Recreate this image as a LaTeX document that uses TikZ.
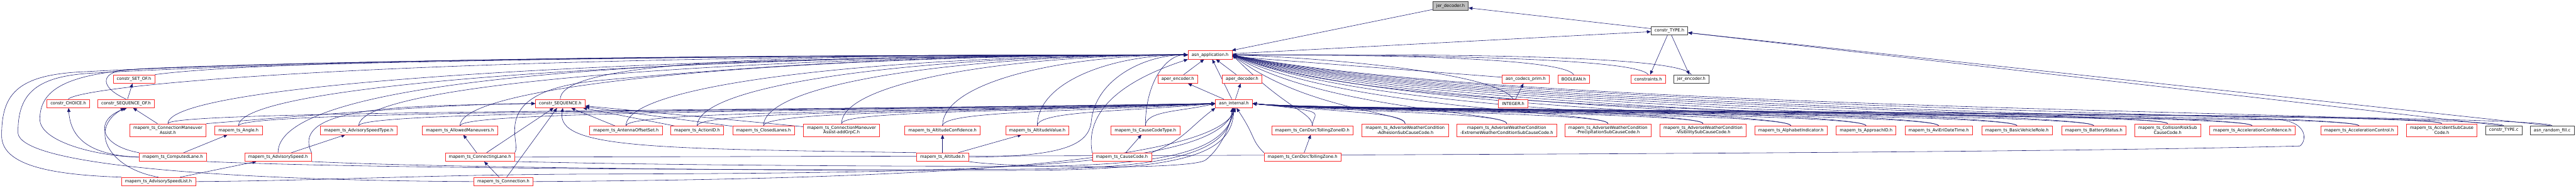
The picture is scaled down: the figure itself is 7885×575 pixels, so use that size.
\documentclass[tikz,border=0pt]{standalone}
\usepackage{fontspec}
\newfontfamily\dejavu{DejaVu Sans}
\usepackage{xcolor}
\definecolor{edgeblue}{RGB}{25,25,112}
\definecolor{boxred}{RGB}{250,45,45}
\definecolor{boxgray}{RGB}{64,64,64}
\definecolor{rootgray}{RGB}{191,191,191}
\usepackage{tikz}
\usetikzlibrary{arrows.meta, calc}
\pgfdeclarelayer{edges}
\pgfsetlayers{edges,main}

\begin{document}
\begin{tikzpicture}[
    x=1pt, y=1pt,
    hfile/.style={rectangle, draw=boxred, fill=white, line width=1.2pt, inner xsep=11pt, inner ysep=6pt, minimum height=26pt, align=center, font=\dejavu\fontsize{12.9}{14.7}\selectfont},
    twoline/.style={minimum height=39.6pt},
    plain/.style={hfile, draw=boxgray},
    root/.style={hfile, draw=boxgray, fill=rootgray},
    arr/.style={-{Triangle[length=12pt, width=10pt]}, line width=1.1pt, edgeblue},
    toapp/.style={to path={.. controls +(0,150) and ($(\tikztotarget)!.5!(\tikztostart |- \tikztotarget)$) .. (\tikztotarget)}},
    toint/.style={to path={.. controls +(0,60) and ($(\tikztotarget)!.5!(\tikztostart |- \tikztotarget) + (0,-25)$) .. (\tikztotarget)}},
    fromright/.style={to path={.. controls +(0,56) and ($(\tikztotarget)!.2!(\tikztostart |- \tikztotarget) + (120,-170)$) .. (\tikztotarget)}},
    intright/.style={to path={.. controls +(0,56) and ($(\tikztotarget) + (250,-26)$) .. (\tikztotarget)}}
  ]
    \useasboundingbox (0,0) rectangle (7885,575);

    % upper part
    \node[root] (jdec) at (4440,557) {jer\_decoder.h};
    \node[plain] (ctype) at (5110,481) {constr\_TYPE.h};
    \node[hfile] (app) at (3704,407) {asn\_application.h};
    \node[hfile] (csetof) at (410,333) {constr\_SET\_OF.h};
    \node[hfile] (aenc) at (3605,333) {aper\_encoder.h};
    \node[hfile] (adec) at (3802,333) {aper\_decoder.h};
    \node[hfile] (acp) at (4670,333) {asn\_codecs\_prim.h};
    \node[hfile] (bool) at (4817,333) {BOOLEAN.h};
    \node[hfile] (cons) at (5045,333) {constraints.h};
    \node[plain] (jenc) at (5177,333) {jer\_encoder.h};
    \node[hfile] (cchoice) at (209,258) {constr\_CHOICE.h};
    \node[hfile] (cseqof) at (386,258) {constr\_SEQUENCE\_OF.h};
    \node[hfile] (cseq) at (1715,258) {constr\_SEQUENCE.h};
    \node[hfile] (aint) at (3777,258) {asn\_internal.h};
    \node[hfile] (int) at (4632,258) {INTEGER.h};

    % row of types
    \node[hfile, twoline] (cma) at (514,176) {mapem\_ts\_ConnectionManeuver\\Assist.h};
    \node[hfile] (angle) at (730,176) {mapem\_ts\_Angle.h};
    \node[hfile] (astype) at (1098,176) {mapem\_ts\_AdvisorySpeedType.h};
    \node[hfile] (allowed) at (1408,176) {mapem\_ts\_AllowedManeuvers.h};
    \node[hfile] (antenna) at (1916,176) {mapem\_ts\_AntennaOffsetSet.h};
    \node[hfile] (actionid) at (2134,176) {mapem\_ts\_ActionID.h};
    \node[hfile] (closed) at (2337,176) {mapem\_ts\_ClosedLanes.h};
    \node[hfile, twoline] (cmagrpc) at (2576,176) {mapem\_ts\_ConnectionManeuver\\Assist-addGrpC.h};
    \node[hfile] (altconf) at (2885,176) {mapem\_ts\_AltitudeConfidence.h};
    \node[hfile] (altval) at (3175,176) {mapem\_ts\_AltitudeValue.h};
    \node[hfile] (cctype) at (3506,176) {mapem\_ts\_CauseCodeType.h};
    \node[hfile] (ctzid) at (4017,176) {mapem\_ts\_CenDsrcTollingZoneID.h};
    \node[hfile, twoline] (adh) at (4301,176) {mapem\_ts\_AdverseWeatherCondition\\-AdhesionSubCauseCode.h};
    \node[hfile, twoline] (ext) at (4612,176) {mapem\_ts\_AdverseWeatherCondition\\-ExtremeWeatherConditionSubCauseCode.h};
    \node[hfile, twoline] (prec) at (4922,176) {mapem\_ts\_AdverseWeatherCondition\\-PrecipitationSubCauseCode.h};
    \node[hfile, twoline] (vis) at (5213,176) {mapem\_ts\_AdverseWeatherCondition\\-VisibilitySubCauseCode.h};
    \node[hfile] (alpha) at (5482,176) {mapem\_ts\_AlphabetIndicator.h};
    \node[hfile] (appr) at (5712,176) {mapem\_ts\_ApproachID.h};
    \node[hfile] (avi) at (5934,176) {mapem\_ts\_AviEriDateTime.h};
    \node[hfile] (bvr) at (6174,176) {mapem\_ts\_BasicVehicleRole.h};
    \node[hfile] (batt) at (6409,176) {mapem\_ts\_BatteryStatus.h};
    \node[hfile, twoline] (coll) at (6635,176) {mapem\_ts\_CollisionRiskSub\\CauseCode.h};
    \node[hfile] (accconf) at (6894,176) {mapem\_ts\_AccelerationConfidence.h};
    \node[hfile] (accctl) at (7221,176) {mapem\_ts\_AccelerationControl.h};
    \node[hfile, twoline] (accsub) at (7474,176) {mapem\_ts\_AccidentSubCause\\Code.h};
    \node[plain] (ctc) at (7664,176) {constr\_TYPE.c};
    \node[plain] (arf) at (7812,176) {asn\_random\_fill.c};

    % lower rows
    \node[hfile] (clane) at (529,94) {mapem\_ts\_ComputedLane.h};
    \node[hfile] (asp) at (851,94) {mapem\_ts\_AdvisorySpeed.h};
    \node[hfile] (cl) at (1469,94) {mapem\_ts\_ConnectingLane.h};
    \node[hfile] (alt) at (2885,94) {mapem\_ts\_Altitude.h};
    \node[hfile] (cc) at (3434,94) {mapem\_ts\_CauseCode.h};
    \node[hfile] (ctz) at (3987,94) {mapem\_ts\_CenDsrcTollingZone.h};
    \node[hfile] (asl) at (485,19) {mapem\_ts\_AdvisorySpeedList.h};
    \node[hfile] (conn) at (1541,19) {mapem\_ts\_Connection.h};

    \begin{pgfonlayer}{edges}
    \draw[arr] (jdec) -- (app);
    \draw[arr] (app) -- (ctype);
    \draw[arr] (ctype) -- (jdec);
    \draw[arr] (ctype) -- (cons);
    \draw[arr] (ctype) -- (jenc);
    \draw[arr] (ctc.north) -- (ctype);
    \draw[arr] (arf.north) -- (ctype);
    \draw[arr] (aenc) -- (app);
    \draw[arr] (adec) -- (app);
    \draw[arr] (aint) -- (app);
    \draw[arr] (aint) -- (aenc);
    \draw[arr] (aint) -- (adec);
    \draw[arr] (acp) -- (app);
    \draw[arr] (int) -- (acp);
    \draw[arr] (int.north) .. controls +(-50,80) and +(300,-10) .. (app.east);
    \draw[arr] (bool.north) .. controls +(-40,60) and +(260,0) .. (app.east);
    \draw[arr] (cons.north) .. controls +(-40,60) and +(300,0) .. (app.east);
    \draw[arr] (jenc.north) .. controls +(-40,70) and +(340,0) .. (app.east);

    \draw[arr] (cseqof) -- (csetof);
    \draw[arr] (csetof.north east) .. controls +(300,40) and +(-1800,0) .. (app.west);
    \draw[arr] (cseqof.north) .. controls +(-90,40) and +(-90,-2) .. (400,362) .. controls +(300,20) and +(-1600,0) .. (app.west);
    \draw[arr] (cchoice.north) .. controls +(40,40) and +(-2500,0) .. (app.west);
    \draw[arr] (cseq) to[toapp] (app.west);

    \draw[arr] (cma) to[toapp] (app.west);
    \draw[arr] (cma) to[toint] (aint.west);
    \draw[arr] (angle) to[toapp] (app.west);
    \draw[arr] (angle) to[toint] (aint.west);
    \draw[arr] (astype) to[toapp] (app.west);
    \draw[arr] (astype) to[toint] (aint.west);
    \draw[arr] (allowed) to[toapp] (app.west);
    \draw[arr] (allowed) to[toint] (aint.west);
    \draw[arr] (antenna) to[toapp] (app.west);
    \draw[arr] (antenna) to[toint] (aint.west);
    \draw[arr] (actionid) to[toapp] (app.west);
    \draw[arr] (actionid) to[toint] (aint.west);
    \draw[arr] (closed) to[toapp] (app.west);
    \draw[arr] (closed) to[toint] (aint.west);
    \draw[arr] (cmagrpc) to[toapp] (app.west);
    \draw[arr] (cmagrpc) to[toint] (aint.west);
    \draw[arr] (altconf) to[toapp] (app.west);
    \draw[arr] (altconf) to[toint] (aint.west);
    \draw[arr] (altval) to[toapp] (app.west);
    \draw[arr] (altval) to[toint] (aint.west);
    \draw[arr] (cctype) to[toapp] (app.west);
    \draw[arr] (cctype) to[toint] (aint.west);
    \draw[arr] (cma) -- (cseqof);
    \draw[arr] (cma.north east) .. controls +(370,30) and +(-240,0) .. (cseq.west);
    \draw[arr] (antenna) -- (cseq);
    \draw[arr] (actionid) -- (cseq);
    \draw[arr] (closed) -- (cseq);
    \draw[arr] (cmagrpc) -- (cseq);

    \draw[arr] (clane) -- (angle);
    \draw[arr] (clane.north west) .. controls (300,130) and (290,210) .. (cseqof.-80);
    \draw[arr] (clane.west) .. controls (250,100) and (215,170) .. (cchoice);
    \draw[arr] (clane.west) .. controls (300,96) and (122,140) .. (122,210) .. controls (122,300) and (200,350) .. (450,365) .. controls (1200,395) and (2600,407) .. (app.west);
    \draw[arr] (clane.south east) .. controls (1200,55) and (2800,52) .. (3200,58) .. controls (3620,64) and (3760,120) .. (aint.-100);

    \draw[arr] (asp) -- (astype);
    \draw[arr] (asp.north) .. controls +(0,230) and +(-1600,0) .. (app.west);
    \draw[arr] (asp.north east) .. controls (880,260) and (1300,250) .. (cseq.west);
    \draw[arr] (asp.south east) .. controls (1400,58) and (2800,50) .. (3200,54) .. controls (3640,60) and (3770,110) .. (aint.-90);

    \draw[arr] (cl) -- (allowed);
    \draw[arr] (cl) -- (cseq);
    \draw[arr] (cl.north east) .. controls (1600,140) and (1480,300) .. (1850,330) .. controls (2500,390) and (3000,407) .. (app.west);
    \draw[arr] (cl.east) .. controls (3000,98) and (6000,100) .. (7040,128) .. controls (7062,145) and (7062,200) .. (6980,208) .. controls (5400,222) and (4150,250) .. (app.east);
    \draw[arr] (cl.south east) .. controls (2000,70) and (2600,66) .. (3100,66) .. controls (3600,64) and (3750,120) .. (aint.-80);

    \draw[arr] (alt) -- (altconf);
    \draw[arr] (alt) -- (altval);
    \draw[arr] (alt.north west) .. controls (2000,120) and (1700,120) .. (cseq.-60);
    \draw[arr] (alt.east) .. controls (3250,95) and (3330,130) .. (3340,200) .. controls (3350,330) and (3500,407) .. (app.west);
    \draw[arr] (alt.south east) .. controls (3100,60) and (3650,55) .. (3690,85) .. controls (3730,115) and (3765,180) .. (aint.-110);

    \draw[arr] (cc) -- (cctype);
    \draw[arr] (cc.north west) .. controls (3330,180) and (3350,300) .. (app.south west);
    \draw[arr] (cc.north east) .. controls +(100,40) and +(-80,-60) .. (aint.south west);

    \draw[arr] (ctz) -- (ctzid);
    \draw[arr] (ctz.north west) .. controls +(-40,40) and +(60,-90) .. (aint.-60);

    \draw[arr] (asl) -- (asp);
    \draw[arr] (asl.north) .. controls (330,60) and (270,180) .. (cseqof.-110);
    \draw[arr] (asl.north west) .. controls (150,40) and (5,70) .. (5,160) .. controls (5,285) and (50,345) .. (250,355) .. controls (1000,395) and (2500,407) .. (app.west);
    \draw[arr] (asl.east) .. controls (1000,22) and (1300,40) .. (1800,42) .. controls (3000,45) and (3720,60) .. (aint.south);

    \draw[arr] (conn) -- (cl);
    \draw[arr] (conn) -- (cseq);
    \draw[arr] (conn.west) .. controls (800,22) and (55,60) .. (55,170) .. controls (55,290) and (110,345) .. (300,352) .. controls (1000,392) and (2500,407) .. (app.west);
    \draw[arr] (conn.east) .. controls (2500,25) and (3700,50) .. (aint.-70);

    \draw[arr] (ctzid) to[fromright] (app.east);
    \draw[arr] (ctzid) to[intright] (aint.east);
    \draw[arr] (adh) to[fromright] (app.east);
    \draw[arr] (adh) to[intright] (aint.east);
    \draw[arr] (ext) to[fromright] (app.east);
    \draw[arr] (ext) to[intright] (aint.east);
    \draw[arr] (prec) to[fromright] (app.east);
    \draw[arr] (prec) to[intright] (aint.east);
    \draw[arr] (vis) to[fromright] (app.east);
    \draw[arr] (vis) to[intright] (aint.east);
    \draw[arr] (alpha) to[fromright] (app.east);
    \draw[arr] (alpha) to[intright] (aint.east);
    \draw[arr] (appr) to[fromright] (app.east);
    \draw[arr] (appr) to[intright] (aint.east);
    \draw[arr] (avi) to[fromright] (app.east);
    \draw[arr] (avi) to[intright] (aint.east);
    \draw[arr] (bvr) to[fromright] (app.east);
    \draw[arr] (bvr) to[intright] (aint.east);
    \draw[arr] (batt) to[fromright] (app.east);
    \draw[arr] (batt) to[intright] (aint.east);
    \draw[arr] (coll) to[fromright] (app.east);
    \draw[arr] (coll) to[intright] (aint.east);
    \draw[arr] (accconf) to[fromright] (app.east);
    \draw[arr] (accconf) to[intright] (aint.east);
    \draw[arr] (accctl) to[fromright] (app.east);
    \draw[arr] (accctl) to[intright] (aint.east);
    \draw[arr] (accsub) to[fromright] (app.east);
    \draw[arr] (accsub) to[intright] (aint.east);
    \draw[arr] (ctc) to[intright] (aint.east);
    \draw[arr] (arf) to[intright] (aint.east);
    \end{pgfonlayer}
  \end{tikzpicture}
\end{document}
